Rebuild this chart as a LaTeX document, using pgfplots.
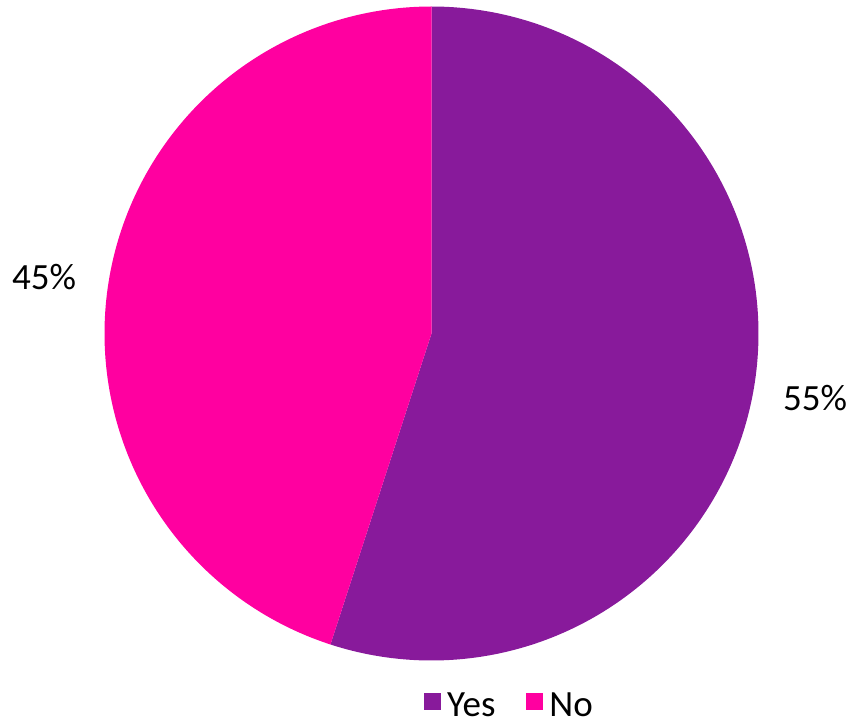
\documentclass[border=0pt]{standalone}
\usepackage{pgfplots}
\pgfplotsset{compat=1.18}
\usepackage{pgfplotstable}
\usepackage{fontspec}
\setmainfont{Carlito}
\definecolor{yescol}{RGB}{136,26,155}
\definecolor{nocol}{RGB}{255,0,160}
\pgfplotstableread{
Label Value
Yes 55
No 45
}\piedata
\pgfplotstablegetelem{0}{Value}\of\piedata \let\yesval\pgfplotsretval
\pgfplotstablegetelem{1}{Value}\of\piedata \let\noval\pgfplotsretval
\pgfmathsetmacro{\yesstart}{90-3.6*\yesval}
\pgfmathsetmacro{\noend}{90+3.6*\noval}
\newcommand{\cx}{431.5}
\newcommand{\cy}{387.5}
\newcommand{\rr}{327}
\begin{document}
\begin{tikzpicture}
\begin{axis}[
  scale only axis, width=853pt, height=721pt,
  xmin=0, xmax=853, ymin=0, ymax=721,
  hide axis, clip=false,
  legend style={at={(axis cs:424,3)}, anchor=south west, draw=none, fill=none,
    legend columns=2, inner sep=0pt, font=\fontsize{37}{42}\selectfont,
    nodes={inner sep=0pt},
    /tikz/every odd column/.append style={column sep=6pt},
    /tikz/every even column/.append style={column sep=31pt}},
  legend cell align=left,
]
\addplot[draw=none, forget plot] coordinates {(0,0) (853,721)};
\addplot[fill=yescol, draw=none, domain=\yesstart:90, samples=200, variable=\t,
  legend image code/.code={\fill[yescol] (0pt,-4.5pt) rectangle (17pt,12.5pt);}]
  ({\cx+\rr*cos(t)},{\cy+\rr*sin(t)}) -- (axis cs:\cx,\cy) -- cycle;
\addlegendentry{Yes}
\addplot[fill=nocol, draw=none, domain=90:\noend, samples=200, variable=\t,
  legend image code/.code={\fill[nocol] (0pt,-4.5pt) rectangle (17pt,12.5pt);}]
  ({\cx+\rr*cos(t)},{\cy+\rr*sin(t)}) -- (axis cs:\cx,\cy) -- cycle;
\addlegendentry{No}
\node[font=\fontsize{37}{42}\selectfont] at (axis cs:44,444) {45\%};
\node[font=\fontsize{37}{42}\selectfont] at (axis cs:815,323) {55\%};
\end{axis}
\end{tikzpicture}
\end{document}
